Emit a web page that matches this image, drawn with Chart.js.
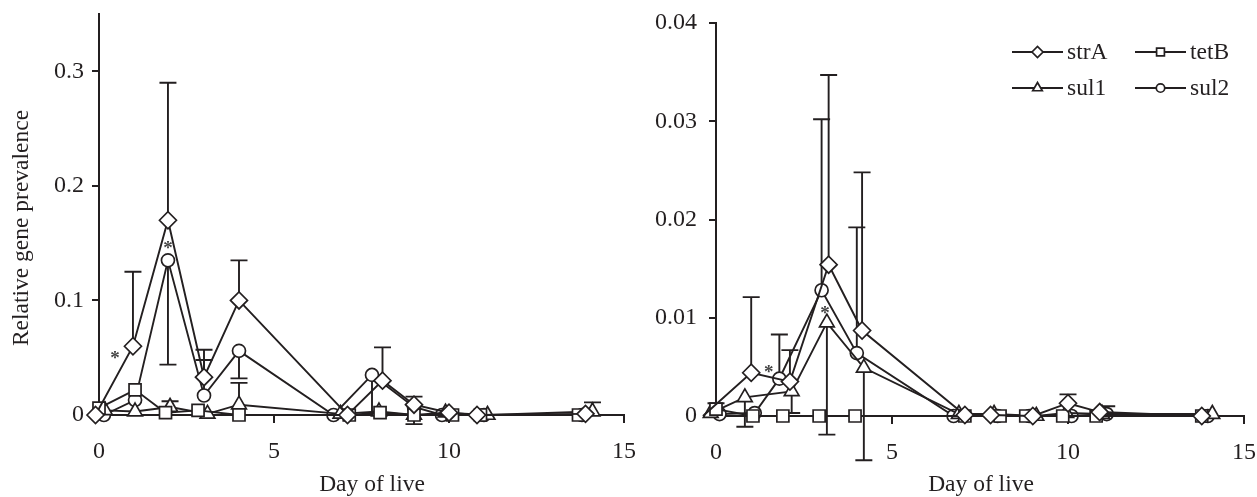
<!DOCTYPE html>
<html>
<head>
<meta charset="utf-8">
<script src="https://cdn.jsdelivr.net/npm/chart.js@4.4.0/dist/chart.umd.min.js"></script>
<style>
  html, body { margin: 0; padding: 0; background: #fff; }
  #wrap { position: relative; width: 1257px; height: 497px; overflow: hidden; }
  canvas { position: absolute; top: 0; }
  #left { left: 0; }
  #right { left: 640px; }
</style>
</head>
<body>
<div id="wrap">
  <canvas id="left" width="640" height="497"></canvas>
  <canvas id="right" width="617" height="497"></canvas>
</div>
<script>
/* Relative gene prevalence by day of life - two panels */

const seriesNames = ['strA', 'tetB', 'sul1', 'sul2'];
const xTicks = [0, 5, 10, 15];
const leftYTicks = [0, 0.1, 0.2, 0.3];
const leftYLabels = ['0', '0.1', '0.2', '0.3'];
const rightYTicks = [0, 0.01, 0.02, 0.03, 0.04];
const rightYLabels = ['0', '0.01', '0.02', '0.03', '0.04'];
const xTitle = 'Day of live';
const yTitle = 'Relative gene prevalence';

// --- left panel ---
const strA_L_x = [-0.1, 0.97, 1.97, 3.0, 4.0, 7.1, 8.1, 9.0, 10.0, 10.8, 13.9];
const strA_L_y = [0, 0.06, 0.17, 0.033, 0.1, 0, 0.03, 0.009, 0.002, 0, 0.001];
const strA_L_err = [[1, 0.125], [2, 0.29], [3, 0.057], [4, 0.135], [6, 0.059]];

const tetB_L_x = [0.0, 1.03, 1.9, 2.83, 4.0, 7.15, 8.03, 9.0, 10.1, 10.9, 13.7];
const tetB_L_y = [0.006, 0.022, 0.002, 0.004, 0, 0, 0.002, 0, 0, 0, 0];
const tetB_L_err = [];

const sul1_L_x = [0.17, 1.03, 2.03, 3.1, 4.0, 6.9, 8.0, 9.0, 9.9, 11.1, 14.1];
const sul1_L_y = [0.004, 0.003, 0.007, 0.001, 0.009, 0.001, 0.003, 0, 0.002, 0, 0.003];
const sul1_L_err = [[2, 0.012], [4, 0.028], [7, -0.008], [10, 0.011]];

const sul2_L_x = [0.14, 1.03, 1.97, 3.0, 4.0, 6.7, 7.8, 9.0, 9.8, 11.0, 13.8];
const sul2_L_y = [0, 0.013, 0.135, 0.017, 0.056, 0, 0.035, 0.007, 0, 0, 0];
const sul2_L_err = [[2, 0.044], [3, 0.048], [4, 0.032], [6, 0.0], [7, 0.016]];

const stars_L = [[0.46, 0.052], [1.97, 0.148]];

// --- right panel ---
const strA_R_x = [-0.37, 1.0, 2.1, 3.2, 4.15, 7.07, 7.8, 9.0, 10.0, 10.9, 13.8];
const strA_R_y = [0, 0.0044, 0.0035, 0.0154, 0.0087, 0.0001, 0.0001, 0, 0.0013, 0.0004, 0];
const strA_R_err = [[1, 0.0121], [2, 0.0067], [3, 0.0347], [4, 0.0248], [8, 0.0022]];

const tetB_R_x = [0.0, 1.05, 1.9, 2.93, 3.95, 7.07, 8.07, 8.8, 9.85, 10.8, 13.8];
const tetB_R_y = [0.0007, 0, 0, 0, 0, 0, 0, 0, 0, 0, 0];
const tetB_R_err = [[0, 0.0013]];

const sul1_R_x = [-0.15, 0.82, 2.15, 3.15, 4.2, 6.9, 7.9, 9.1, 9.95, 10.97, 14.1];
const sul1_R_y = [0.0003, 0.0019, 0.0025, 0.0095, 0.0049, 0.0002, 0.0002, 0, 0.0003, 0.0002, 0.0002];
const sul1_R_err = [[1, -0.0011], [2, 0.0003], [3, -0.0019], [4, -0.0045]];

const sul2_R_x = [0.1, 1.1, 1.8, 3.0, 4.0, 6.75, 8.0, 8.9, 10.1, 11.1, 13.97];
const sul2_R_y = [0.0002, 0.0003, 0.0038, 0.0128, 0.0064, 0, 0, 0, 0, 0.0002, 0];
const sul2_R_err = [[2, 0.0083], [3, 0.0302], [4, 0.0192], [9, 0.001]];

const stars_R = [[1.5, 0.0048], [3.1, 0.0108]];

const ink = '#231f20';
const serif = '"Liberation Serif", "DejaVu Serif", serif';
const markers = { strA: ['rectRot', 8.5], tetB: ['rect', 8.5], sul1: ['triangle', 8.5], sul2: ['circle', 6.5] };

Chart.defaults.font.family = serif;
Chart.defaults.color = ink;

function pts(xs, ys) {
    return xs.map((x, i) => ({ x: x, y: ys[i] }));
}

function makeSet(name, xs, ys, err) {
    const m = markers[name];
    return {
        label: name, data: pts(xs, ys), err: err,
        showLine: true, borderColor: ink, borderWidth: 1.9,
        pointStyle: m[0], pointRadius: m[1], pointHoverRadius: m[1],
        pointBackgroundColor: '#fff', pointBorderColor: ink, pointBorderWidth: 1.7,
        clip: false, tension: 0
    };
}

// error bars under the markers
const errorBars = {
    id: 'errorBars',
    beforeDatasetsDraw(chart) {
        const ctx = chart.ctx, sx = chart.scales.x, sy = chart.scales.y;
        ctx.save();
        ctx.strokeStyle = ink;
        ctx.lineWidth = 1.9;
        chart.data.datasets.forEach(ds => {
            (ds.err || []).forEach(([i, end]) => {
                const p = ds.data[i];
                const px = sx.getPixelForValue(p.x);
                const py = sy.getPixelForValue(p.y);
                const pe = sy.getPixelForValue(end);
                ctx.beginPath();
                ctx.moveTo(px, py); ctx.lineTo(px, pe);
                ctx.moveTo(px - 8.5, pe); ctx.lineTo(px + 8.5, pe);
                ctx.stroke();
            });
        });
        ctx.restore();
    }
};

// titles, asterisks and the legend
const extras = {
    id: 'extras',
    afterDraw(chart, args, opts) {
        const ctx = chart.ctx, sx = chart.scales.x, sy = chart.scales.y;
        ctx.save();
        ctx.fillStyle = ink;
        ctx.font = '23.5px ' + serif;
        ctx.textAlign = 'center';
        ctx.textBaseline = 'alphabetic';
        ctx.fillText(xTitle, opts.xTitleX, 491);
        if (opts.yTitle) {
            ctx.save();
            ctx.translate(opts.yTitle[0], opts.yTitle[1]);
            ctx.rotate(-Math.PI / 2);
            ctx.textBaseline = 'middle';
            ctx.fillText(yTitle, 0, 0);
            ctx.restore();
        }
        ctx.font = 'bold 19px ' + serif;
        ctx.fillStyle = '#444';
        ctx.textBaseline = 'middle';
        opts.stars.forEach(([x, y]) => {
            ctx.fillText('*', sx.getPixelForValue(x), sy.getPixelForValue(y) + 4);
        });
        if (opts.legend) {
            const L = opts.legend;
            ctx.font = '23.5px ' + serif;
            ctx.textAlign = 'left';
            seriesNames.forEach((name, k) => {
                const x0 = L.cols[k % 2], y0 = L.rows[Math.floor(k / 2)];
                ctx.strokeStyle = ink;
                ctx.lineWidth = 1.9;
                ctx.beginPath();
                ctx.moveTo(x0, y0); ctx.lineTo(x0 + 51, y0);
                ctx.stroke();
                const m = markers[name];
                ctx.fillStyle = '#fff';
                ctx.lineWidth = 1.7;
                Chart.helpers.drawPoint(ctx, { pointStyle: m[0], radius: m[1] * 0.65, borderWidth: 1.7 }, x0 + 25.5, y0);
                ctx.fillStyle = ink;
                ctx.fillText(name, x0 + 55, y0 + 1);
            });
        }
        ctx.restore();
    }
};

function scalesFor(yTicks, yLabels, yMax, yWidth, yPad, xHeight) {
    return {
        x: {
            type: 'linear', min: 0, max: 15,
            afterBuildTicks: s => { s.ticks = xTicks.map(v => ({ value: v })); },
            border: { display: true, color: ink, width: 2 },
            grid: {
                drawOnChartArea: false, drawTicks: true, tickLength: 8, lineWidth: 2,
                color: c => (c.tick && c.tick.value === 0) ? 'rgba(0,0,0,0)' : ink
            },
            ticks: { color: ink, padding: 14, font: { size: 24 }, maxRotation: 0, callback: v => String(v) },
            afterFit: s => { s.height = xHeight; s.paddingLeft = 0; s.paddingRight = 0; }
        },
        y: {
            type: 'linear', min: 0, max: yMax,
            afterBuildTicks: s => { s.ticks = yTicks.map(v => ({ value: v })); },
            border: { display: true, color: ink, width: 2 },
            grid: { drawOnChartArea: false, drawTicks: true, tickLength: 7, lineWidth: 2, color: ink },
            ticks: { color: ink, padding: yPad, font: { size: 24 }, callback: v => yLabels[yTicks.indexOf(v)] },
            afterFit: s => { s.width = yWidth; s.paddingTop = 0; s.paddingBottom = 0; }
        }
    };
}

function baseOptions(scales, padding, extraOpts) {
    return {
        responsive: false, animation: false,
        layout: { padding: padding },
        scales: scales,
        plugins: { legend: { display: false }, tooltip: { enabled: false }, extras: extraOpts }
    };
}

new Chart(document.getElementById('left'), {
    type: 'scatter',
    data: {
        datasets: [
            makeSet('strA', strA_L_x, strA_L_y, strA_L_err),
            makeSet('tetB', tetB_L_x, tetB_L_y, tetB_L_err),
            makeSet('sul1', sul1_L_x, sul1_L_y, sul1_L_err),
            makeSet('sul2', sul2_L_x, sul2_L_y, sul2_L_err)
        ]
    },
    options: baseOptions(
        scalesFor(leftYTicks, leftYLabels, 0.35, 99, 8, 82),
        { left: 0, top: 14, right: 16, bottom: 0 },
        { xTitleX: 372, yTitle: [22, 228], stars: stars_L }
    ),
    plugins: [errorBars, extras]
});

new Chart(document.getElementById('right'), {
    type: 'scatter',
    data: {
        datasets: [
            makeSet('strA', strA_R_x, strA_R_y, strA_R_err),
            makeSet('tetB', tetB_R_x, tetB_R_y, tetB_R_err),
            makeSet('sul1', sul1_R_x, sul1_R_y, sul1_R_err),
            makeSet('sul2', sul2_R_x, sul2_R_y, sul2_R_err)
        ]
    },
    options: baseOptions(
        scalesFor(rightYTicks, rightYLabels, 0.04, 76, 12, 81),
        { left: 0, top: 23, right: 13, bottom: 0 },
        { xTitleX: 341, yTitle: null, stars: stars_R,
          legend: { cols: [372, 495], rows: [52, 88] } }
    ),
    plugins: [errorBars, extras]
});
</script>
</body>
</html>
